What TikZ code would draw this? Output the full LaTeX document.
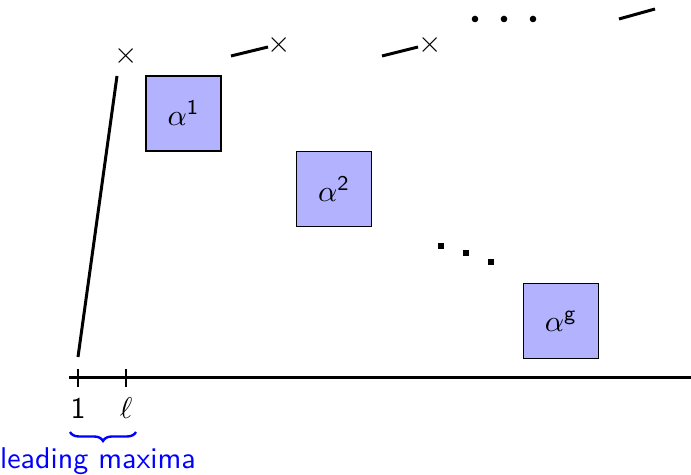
\documentclass[tikz,border=0pt]{standalone}
\usepackage{amsmath,amssymb}
\usepackage{tikz}
\usetikzlibrary{positioning,decorations.pathreplacing}
\renewcommand{\familydefault}{\sfdefault}

\begin{document}
\begin{tikzpicture}[
  x=0.3333pt, y=-0.3333pt,
  font=\sffamily,
  blk/.style={draw, fill=blue!30, minimum size=25pt, inner sep=0pt},
  mx/.style={inner sep=0pt, font=\normalsize},
  seg/.style={line width=1pt},
  tck/.style={line width=0.4pt},
  dotc/.style={fill, circle, inner sep=0pt, minimum size=2.2pt},
  dots/.style={fill, rectangle, inner sep=0pt, minimum size=1.7pt},
  lbl/.style={text=blue}
]
\useasboundingbox (0,0) rectangle (691,475);
% blocks on the diagonal
\node[blk] (b1) at (183.5,113.5) {$\alpha^{\mathsf{1}}$};
\node[blk] (b2) at (334,189)     {$\alpha^{\mathsf{2}}$};
\node[blk] (bg) at (561,321)     {$\alpha^{\mathsf{g}}$};
\node[dots] (d1) at (441,246) {};
\node[dots] (d2) at (466,253) {};
\node[dots] (d3) at (491,262) {};
% maxima
\node[mx] (m1) at (126,56) {$\times$};
\node[mx] (m2) at (279,45) {$\times$};
\node[mx] (m3) at (430,45) {$\times$};
\node[dotc] (t1) at (475,19) {};
\node[dotc] (t2) at (504,19) {};
\node[dotc] (t3) at (533,19) {};
\coordinate (p0) at (78,357);
\coordinate (p1) at (117,76);
\coordinate (s2a) at (231,56);
\coordinate (s2b) at (268,47);
\coordinate (s3a) at (382,56);
\coordinate (s3b) at (418,47);
\coordinate (s4a) at (619,19);
\coordinate (s4b) at (655,9);
\draw[seg] (p0) -- (p1);
\draw[seg] (s2a) -- (s2b);
\draw[seg] (s3a) -- (s3b);
\draw[seg] (s4a) -- (s4b);
% axis
\coordinate (ax0) at (69,378);
\coordinate (ax1) at (691,378);
\draw[seg] (ax0) -- (ax1);
\coordinate (k1) at (78,378);
\coordinate (kl) at (126,378);
\draw[tck] (k1) ++(0,-9) -- ++(0,18);
\draw[tck] (kl) ++(0,-9) -- ++(0,18);
\node (n1) at (78,408) {1};
\node (nl) at (126,408) {$\ell$};
\coordinate (br0) at (70,432);
\coordinate (br1) at (136,432);
\draw[blue, line width=0.8pt, decorate,
  decoration={brace, mirror, amplitude=3pt}] (br0) -- (br1);
\node[lbl] (lead) at (98,461) {leading maxima};
\end{tikzpicture}
\end{document}
